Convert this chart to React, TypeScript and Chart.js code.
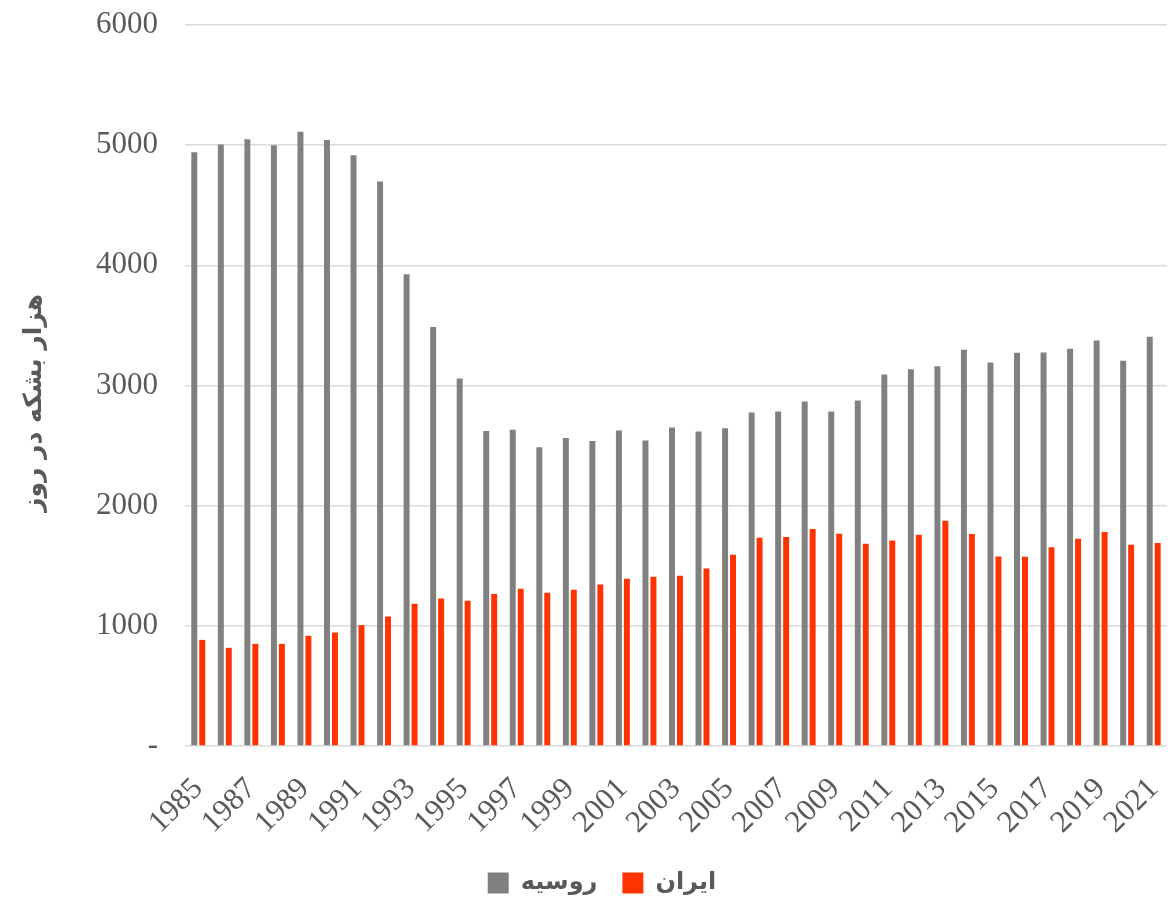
import React, { useEffect, useRef } from "react";
import { Chart, registerables } from "chart.js";

Chart.register(...registerables);

const years: string[] = [
  "1985","1986","1987","1988","1989","1990","1991","1992","1993","1994",
  "1995","1996","1997","1998","1999","2000","2001","2002","2003","2004",
  "2005","2006","2007","2008","2009","2010","2011","2012","2013","2014",
  "2015","2016","2017","2018","2019","2020","2021",
];

const russia: number[] = [
  4942, 5006, 5050, 5000, 5111, 5042, 4917, 4697, 3925, 3486,
  3058, 2622, 2631, 2486, 2564, 2539, 2625, 2542, 2650, 2617,
  2644, 2775, 2783, 2867, 2783, 2875, 3092, 3136, 3161, 3297,
  3192, 3272, 3275, 3306, 3375, 3206, 3406,
];

const iran: number[] = [
  883, 817, 850, 850, 917, 944, 1006, 1078, 1183, 1228,
  1208, 1264, 1308, 1275, 1300, 1344, 1392, 1408, 1417, 1478,
  1592, 1733, 1739, 1806, 1767, 1683, 1711, 1758, 1875, 1764,
  1578, 1575, 1653, 1725, 1781, 1675, 1689,
];

const seriesNames: string[] = ["روسیه", "ایران"];
const yTitle = "هزار بشکه در روز";
const yTicks: number[] = [0, 1000, 2000, 3000, 4000, 5000, 6000];

const legendShift = {
  id: "legendShift",
  afterLayout(chart: any) {
    if (chart.legend) {
      chart.legend.left += 36;
    }
  },
};

export default function App() {
  const ref = useRef<HTMLCanvasElement | null>(null);

  useEffect(() => {
    if (!ref.current) return;
    const chart = new Chart(ref.current, {
      type: "bar",
      data: {
        labels: years,
        datasets: [
          {
            label: seriesNames[0],
            data: russia,
            backgroundColor: "#808080",
            categoryPercentage: 0.6,
            barPercentage: 0.75,
          },
          {
            label: seriesNames[1],
            data: iran,
            backgroundColor: "#ff3300",
            categoryPercentage: 0.6,
            barPercentage: 0.75,
          },
        ],
      },
      plugins: [legendShift],
      options: {
        animation: false,
        responsive: false,
        maintainAspectRatio: false,
        layout: { padding: { top: 25, right: 0, left: 0, bottom: 8 } },
        plugins: {
          tooltip: { enabled: false },
          legend: {
            position: "bottom",
            labels: {
              boxWidth: 21,
              boxHeight: 21,
              padding: 25,
              color: "#595959",
              font: { family: "DejaVu Sans", size: 24, weight: "bold" },
            },
          },
        },
        scales: {
          x: {
            grid: { display: false, drawTicks: true, tickLength: 37, tickColor: "rgba(0,0,0,0)" },
            border: { display: false },
            afterFit: (s: any) => {
              s.height = 100;
            },
            ticks: {
              autoSkip: false,
              maxRotation: 45,
              minRotation: 45,
              padding: -12,
              color: "#595959",
              font: { family: "Liberation Serif", size: 31, lineHeight: 1.2 },
              callback: (_v: any, i: number) => (i % 2 === 0 ? years[i] : ""),
            },
          },
          y: {
            min: 0,
            max: 6000,
            afterFit: (s: any) => {
              s.width = 185;
            },
            afterBuildTicks: (s: any) => {
              s.ticks = yTicks.map((v) => ({ value: v }));
            },
            grid: {
              color: "#d9d9d9",
              lineWidth: 1.5,
              drawTicks: true,
              tickLength: 25,
              tickColor: "rgba(0,0,0,0)",
            },
            border: { display: false },
            title: {
              display: true,
              text: yTitle + "    ",
              color: "#595959",
              font: { family: "DejaVu Sans", size: 25, weight: "bold" },
              padding: { top: 19, bottom: 0 },
            },
            ticks: {
              padding: 2,
              color: "#595959",
              font: { family: "Liberation Serif", size: 31 },
              callback: (v: any) => (Number(v) === 0 ? "-" : String(v)),
            },
          },
        },
      },
    });
    return () => chart.destroy();
  }, []);

  return (
    <div style={{ position: "fixed", left: 0, top: 0, width: 1168, height: 913, background: "#fff" }}>
      <canvas ref={ref} width={1168} height={913} style={{ width: 1168, height: 913 }} />
    </div>
  );
}
